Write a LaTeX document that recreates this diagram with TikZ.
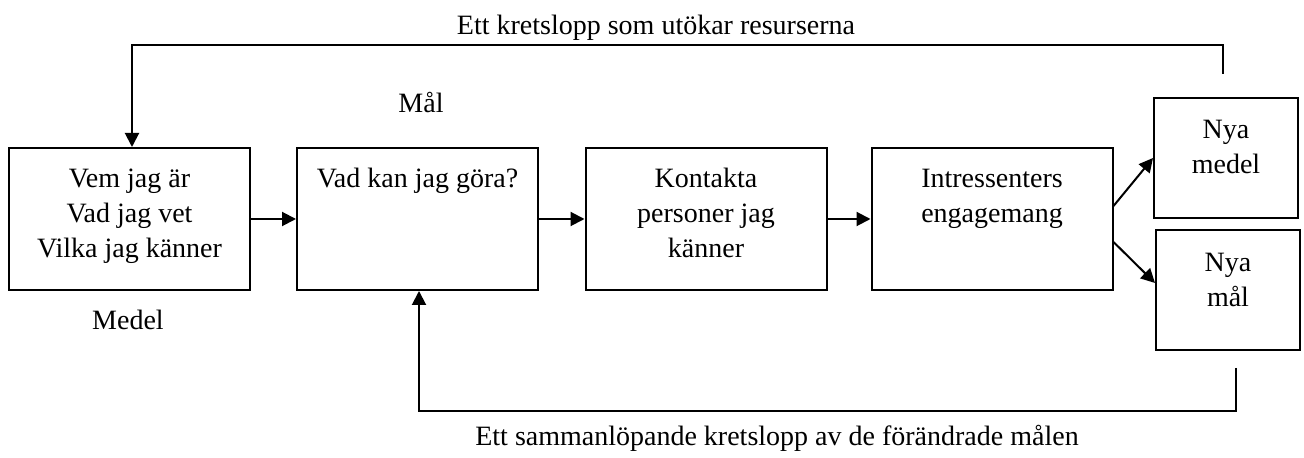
\documentclass[tikz,border=0pt]{standalone}
\usepackage{fontspec}
\setmainfont{Liberation Serif}
\usetikzlibrary{arrows.meta}

\begin{document}
\begin{tikzpicture}[x=0.5pt,y=-0.5pt,
  font=\fontsize{14}{17.5}\selectfont,
  box/.style={draw,line width=1pt,minimum width=120.5pt,minimum height=71pt,inner sep=0pt},
  smallbox/.style={draw,line width=1pt,minimum width=72pt,minimum height=60pt,inner sep=0pt},
  boxtext/.style={anchor=base,align=center,inner sep=0pt},
  caption/.style={anchor=base,inner sep=0pt},
  arr/.style={line width=1pt,-{Triangle[length=7pt,width=7pt]}}]
\useasboundingbox (0,0) rectangle (1304,458);

% draw boxes
\node[box] (vem) at (129.5,219) {};
\node[box] (vad) at (417.5,219) {};
\node[box] (kon) at (706,219) {};
\node[box] (int) at (992,219) {};
\node[smallbox] (nyamedel) at (1226,158) {};
\node[smallbox] (nyamal) at (1228,290) {};

% draw box texts (base is the last line, 17.5pt per line)
\node[boxtext] (vemtext) at ([yshift=-55.5pt]vem.north) {Vem jag är\\Vad jag vet\\Vilka jag känner};
\node[boxtext] (vadtext) at ([yshift=-20.5pt]vad.north) {Vad kan jag göra?};
\node[boxtext] (kontext) at ([yshift=-55.5pt]kon.north) {Kontakta\\personer jag\\känner};
\node[boxtext] (inttext) at ([yshift=-38pt]int.north) {Intressenters\\engagemang};
\node[boxtext] (medeltext) at ([yshift=-38.5pt]nyamedel.north) {Nya\\medel};
\node[boxtext] (maltext) at ([yshift=-39pt]nyamal.north) {Nya\\mål};

% draw captions
\node[caption] (medel) at (128,330) {Medel};
\node[caption] (mal) at (421,113) {Mål};
\node[caption] (toptext) at (656,35) {Ett kretslopp som utökar resurserna};
\node[caption] (bottomtext) at (777,445) {Ett sammanlöpande kretslopp av de förändrade målen};

% draw arrows
\draw[arr] (vem) -- (vad);
\draw[arr] (vad) -- (kon);
\draw[arr] (kon) -- (int);
\draw[arr] ([yshift=6.5pt]int.east) -- (nyamedel.west);
\draw[arr] ([yshift=-11.5pt]int.east) -- ([yshift=3.5pt]nyamal.west);

% draw loops
\coordinate (upstart) at (1223,74);
\draw[arr] (upstart) -- ++(0,-29) -| ([xshift=1.25pt]vem.north);
\coordinate (downstart) at (1236,368);
\draw[arr] (downstart) -- ++(0,43) -| ([xshift=0.75pt]vad.south);

\end{tikzpicture}
\end{document}
